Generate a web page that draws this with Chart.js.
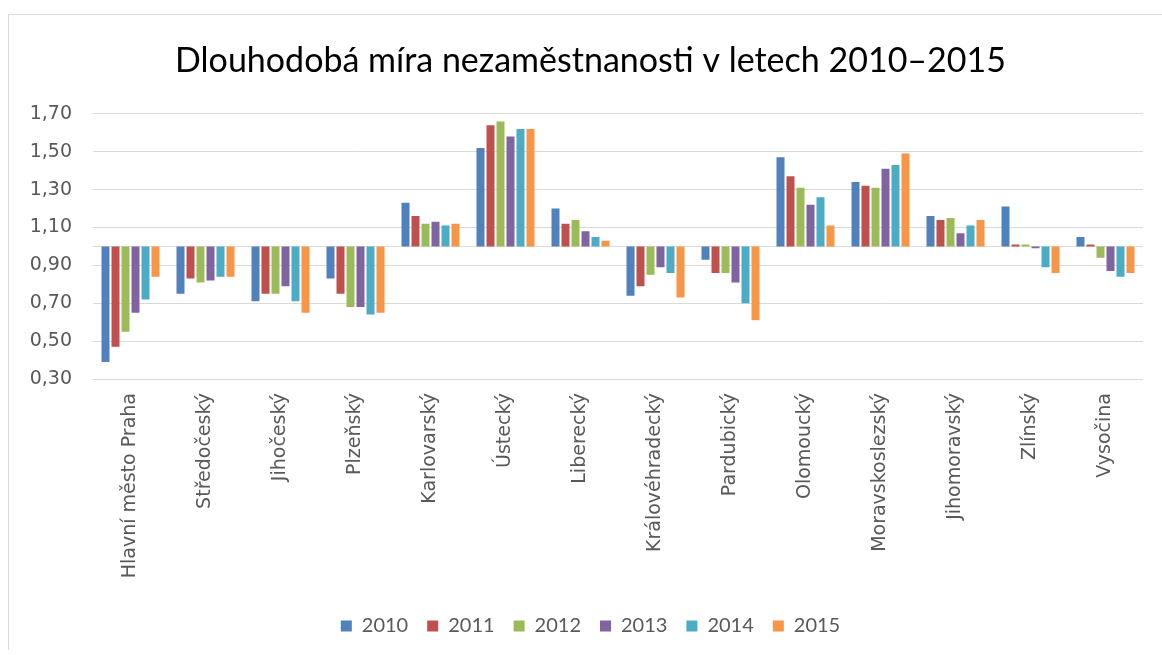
<!DOCTYPE html>
<html>
<head>
<meta charset="utf-8">
<script src="https://cdn.jsdelivr.net/npm/chart.js@4"></script>
<style>
  body { margin: 0; background: #fff; overflow: hidden; }
  #wrap {
    position: absolute; left: 8px; top: 14px;
    width: 1164px; height: 636px;
    border-left: 1px solid #d9d9d9; border-top: 1px solid #d9d9d9;
    box-sizing: border-box;
  }
</style>
</head>
<body>
<div id="wrap"><canvas id="unemploymentChart"></canvas></div>
<script>
const regions = ['Hlavní město Praha', 'Středočeský', 'Jihočeský', 'Plzeňský', 'Karlovarský', 'Ústecký',
    'Liberecký', 'Královéhradecký', 'Pardubický', 'Olomoucký', 'Moravskoslezský', 'Jihomoravský', 'Zlínský', 'Vysočina'];
const years = ['2010', '2011', '2012', '2013', '2014', '2015'];

const values2010 = [0.39, 0.75, 0.71, 0.83, 1.23, 1.52, 1.20, 0.74, 0.93, 1.47, 1.34, 1.16, 1.21, 1.05];
const values2011 = [0.47, 0.83, 0.75, 0.75, 1.16, 1.64, 1.12, 0.79, 0.86, 1.37, 1.32, 1.14, 1.01, 1.01];
const values2012 = [0.55, 0.81, 0.75, 0.68, 1.12, 1.66, 1.14, 0.85, 0.86, 1.31, 1.31, 1.15, 1.01, 0.94];
const values2013 = [0.65, 0.82, 0.79, 0.68, 1.13, 1.58, 1.08, 0.89, 0.81, 1.22, 1.41, 1.07, 0.99, 0.87];
const values2014 = [0.72, 0.84, 0.71, 0.64, 1.11, 1.62, 1.05, 0.86, 0.70, 1.26, 1.43, 1.11, 0.89, 0.84];
const values2015 = [0.84, 0.84, 0.65, 0.65, 1.12, 1.62, 1.03, 0.73, 0.61, 1.11, 1.49, 1.14, 0.86, 0.86];

const baseValue = 1.0; // horizontal axis crosses at 1,00
const yMin = 0.3, yMax = 1.7, yStep = 0.2;

const allValues = [values2010, values2011, values2012, values2013, values2014, values2015];
const colors = ['#4F81BD', '#C0504D', '#9BBB59', '#8064A2', '#4BACC6', '#F79646'];

// line at the crossing value, like Excel's horizontal axis
const baseLinePlugin = {
    id: 'baseLine',
    beforeDatasetsDraw(chart) {
        const y = chart.scales.y.getPixelForValue(baseValue);
        const c = chart.ctx;
        c.save();
        c.strokeStyle = '#d9d9d9';
        c.lineWidth = 1;
        c.beginPath();
        c.moveTo(chart.chartArea.left, y);
        c.lineTo(chart.chartArea.right, y);
        c.stroke();
        c.restore();
    }
};

const ctx = document.getElementById('unemploymentChart').getContext('2d');
new Chart(ctx, {
    type: 'bar',
    data: {
        labels: regions,
        datasets: years.map((year, i) => ({
            label: year,
            data: allValues[i].map(v => [baseValue, v]), // floating bars from 1,00
            backgroundColor: colors[i],
            borderWidth: 0,
            barPercentage: 0.8,
            categoryPercentage: 0.8
        }))
    },
    options: {
        responsive: true,
        maintainAspectRatio: false,
        animation: false,
        layout: { padding: { left: 0, right: 0, top: 0, bottom: 4 } },
        plugins: {
            title: {
                display: true,
                text: 'Dlouhodobá míra nezaměstnanosti v letech 2010–2015',
                color: '#000000',
                font: { family: 'Lato', size: 34, weight: 'normal' },
                padding: { top: 26, bottom: 32 }
            },
            legend: {
                position: 'bottom',
                labels: {
                    boxWidth: 11,
                    boxHeight: 11,
                    padding: 19,
                    color: '#595959',
                    font: { family: 'Lato', size: 20 }
                }
            },
            tooltip: { enabled: false }
        },
        scales: {
            x: {
                grid: { display: false, drawTicks: false },
                border: { display: false },
                ticks: {
                    color: '#595959',
                    font: { family: "'DejaVu Sans'", size: 19 },
                    maxRotation: 90,
                    minRotation: 90,
                    padding: 14,
                    autoSkip: false
                },
                afterFit(scale) { scale.height = 218; }
            },
            y: {
                min: yMin,
                max: yMax,
                grid: { color: '#d9d9d9', lineWidth: 1, drawTicks: false },
                border: { display: false },
                ticks: {
                    stepSize: yStep,
                    color: '#595959',
                    font: { family: "'DejaVu Sans'", size: 19 },
                    padding: 21,
                    callback: value => value.toFixed(2).replace('.', ',')
                },
                afterFit(scale) { scale.width = 84; }
            },
            // empty right axis, only keeps the gap on the right so the title stays centred on the canvas
            yRight: {
                position: 'right',
                display: true,
                grid: { display: false, drawTicks: false },
                border: { display: false },
                ticks: { display: false },
                afterFit(scale) { scale.width = 29; }
            }
        }
    },
    plugins: [baseLinePlugin]
});
</script>
</body>
</html>
